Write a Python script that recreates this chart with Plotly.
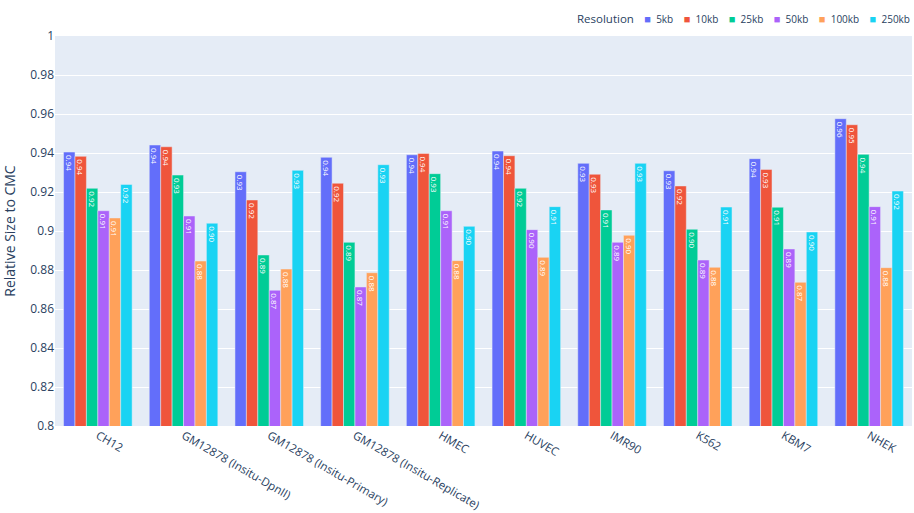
import plotly.graph_objects as go

cell_lines = [
    "CH12",
    "GM12878 (Insitu-DpnII)",
    "GM12878 (Insitu-Primary)",
    "GM12878 (Insitu-Replicate)",
    "HMEC",
    "HUVEC",
    "IMR90",
    "K562",
    "KBM7",
    "NHEK",
]

resolutions = ["5kb", "10kb", "25kb", "50kb", "100kb", "250kb"]

size_5kb = [0.9405, 0.9441, 0.9304, 0.9378, 0.9391, 0.9410, 0.9347, 0.9309, 0.9371, 0.9576]
size_10kb = [0.9383, 0.9432, 0.9159, 0.9245, 0.9398, 0.9386, 0.9291, 0.9231, 0.9316, 0.9545]
size_25kb = [0.9219, 0.9287, 0.8877, 0.8942, 0.9294, 0.9219, 0.9108, 0.9009, 0.9122, 0.9393]
size_50kb = [0.9104, 0.9077, 0.8696, 0.8713, 0.9104, 0.9007, 0.8942, 0.8851, 0.8908, 0.9125]
size_100kb = [0.9067, 0.8846, 0.8805, 0.8786, 0.8848, 0.8865, 0.8978, 0.8814, 0.8737, 0.8812]
size_250kb = [0.9239, 0.9040, 0.9311, 0.9340, 0.9024, 0.9125, 0.9347, 0.9123, 0.8995, 0.9205]

series = [size_5kb, size_10kb, size_25kb, size_50kb, size_100kb, size_250kb]
palette = ["#636EFA", "#EF553B", "#00CC96", "#AB63FA", "#FFA15A", "#19D3F3"]

fig = go.Figure()
for res, vals, color in zip(resolutions, series, palette):
    fig.add_trace(go.Bar(
        name=res,
        x=cell_lines,
        y=vals,
        marker_color=color,
        texttemplate="%{y:.2f}",
        textposition="inside",
        insidetextanchor="end",
        textangle=90,
        insidetextfont=dict(color="white", size=8),
        showlegend=False,
    ))

# compact one-line legend: title followed by coloured swatches and labels
nb = "\u00a0"
entries = [
    f"<span style='color:{c};font-size:11px'>■</span>{nb * 2}{r}"
    for r, c in zip(resolutions, palette)
]
legend_text = (
    f"<span style='font-size:11.5px'>Resolution</span>{nb * 4}"
    + (nb * 4).join(entries)
)
fig.add_annotation(
    text=legend_text,
    xref="paper", yref="paper",
    x=1.0, y=1.046,
    xanchor="right", yanchor="middle",
    showarrow=False,
    font=dict(size=10, color="#2a3f5f"),
)

fig.update_layout(
    template="plotly",
    width=914,
    height=513,
    barmode="group",
    margin=dict(l=55, r=2, t=36, b=87),
    font=dict(family="Open Sans, Verdana, sans-serif"),
    uniformtext=dict(minsize=8, mode="show"),
    yaxis=dict(
        title=dict(text="Relative Size to CMC", font=dict(size=14)),
        range=[0.8, 1.0],
        dtick=0.02,
    ),
    xaxis=dict(tickangle=30, automargin=False, tickfont=dict(size=11.5)),
)

fig.write_html("out.html")
